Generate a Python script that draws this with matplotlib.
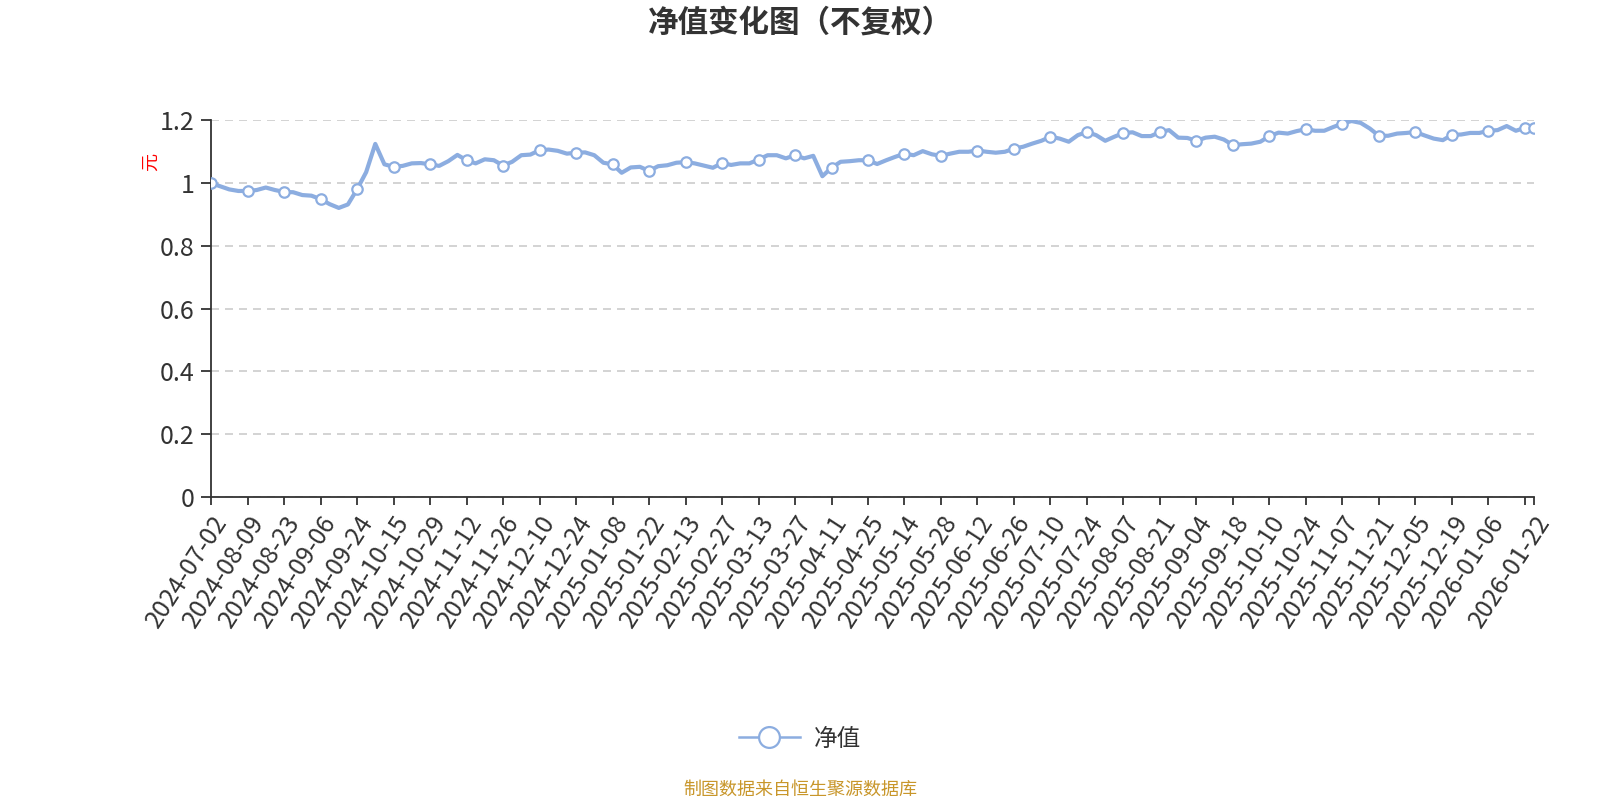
import numpy as np
import matplotlib
matplotlib.use("Agg")
import matplotlib.pyplot as plt
from matplotlib.lines import Line2D

plt.rcParams['font.family'] = ['Noto Sans CJK SC', 'DejaVu Sans']

# axis labels shown on the category axis (one every 10 trading days, last one at the end)
date_labels = [
    "2024-07-02", "2024-08-09", "2024-08-23", "2024-09-06", "2024-09-24",
    "2024-10-15", "2024-10-29", "2024-11-12", "2024-11-26", "2024-12-10",
    "2024-12-24", "2025-01-08", "2025-01-22", "2025-02-13", "2025-02-27",
    "2025-03-13", "2025-03-27", "2025-04-11", "2025-04-25", "2025-05-14",
    "2025-05-28", "2025-06-12", "2025-06-26", "2025-07-10", "2025-07-24",
    "2025-08-07", "2025-08-21", "2025-09-04", "2025-09-18", "2025-10-10",
    "2025-10-24", "2025-11-07", "2025-11-21", "2025-12-05", "2025-12-19",
    "2026-01-06", "2026-01-22",
]

nav = [
    1.000, 0.990, 0.980, 0.975, 0.975, 0.978, 0.986, 0.978,
    0.972, 0.971, 0.962, 0.960, 0.949, 0.933, 0.921, 0.932,
    0.980, 1.035, 1.125, 1.060, 1.052, 1.055, 1.063, 1.064,
    1.060, 1.055, 1.070, 1.090, 1.073, 1.063, 1.076, 1.073,
    1.056, 1.068, 1.089, 1.091, 1.105, 1.107, 1.103, 1.094,
    1.097, 1.098, 1.089, 1.065, 1.060, 1.033, 1.050, 1.052,
    1.039, 1.054, 1.057, 1.065, 1.067, 1.063, 1.056, 1.049,
    1.064, 1.058, 1.063, 1.063, 1.075, 1.089, 1.089, 1.079,
    1.089, 1.079, 1.087, 1.022, 1.049, 1.068, 1.070, 1.073,
    1.073, 1.061, 1.073, 1.084, 1.094, 1.089, 1.102, 1.092,
    1.087, 1.094, 1.100, 1.100, 1.104, 1.100, 1.097, 1.100,
    1.110, 1.116, 1.126, 1.135, 1.148, 1.142, 1.132, 1.153,
    1.163, 1.153, 1.135, 1.148, 1.160, 1.162, 1.150, 1.150,
    1.163, 1.169, 1.145, 1.144, 1.135, 1.145, 1.148, 1.139,
    1.121, 1.124, 1.126, 1.132, 1.150, 1.161, 1.158, 1.166,
    1.172, 1.167, 1.167, 1.179, 1.190, 1.198, 1.192, 1.174,
    1.151, 1.151, 1.158, 1.160, 1.163, 1.152, 1.142, 1.137,
    1.154, 1.155, 1.160, 1.160, 1.167, 1.169, 1.182, 1.167,
    1.176, 1.177,
]
steps_per_label = 4

y_ticks = [0, 0.2, 0.4, 0.6, 0.8, 1.0, 1.2]
y_tick_labels = ["0", "0.2", "0.4", "0.6", "0.8", "1", "1.2"]

line_color = "#8cade0"
text_color = "#333333"

x = np.arange(len(nav)) / steps_per_label
nav_arr = np.array(nav)

fig = plt.figure(figsize=(16, 8), dpi=100)
ax = fig.add_axes([0.1319, 0.379, 0.8269, 0.4705])

ax.plot(x, nav_arr, color=line_color, lw=3.0, zorder=3,
        solid_joinstyle="round", solid_capstyle="round")
mark_idx = list(range(0, len(nav), steps_per_label))
if mark_idx[-1] != len(nav) - 1:
    mark_idx.append(len(nav) - 1)
ax.plot(x[mark_idx], nav_arr[mark_idx], "o", ms=7.5, mfc="white",
        mec=line_color, mew=1.6, zorder=4)

ax.set_xlim(0, x[-1])
ax.set_ylim(0, 1.2)

n_full = len(date_labels) - 1
xt = list(range(n_full + 1)) + [x[-1]]
xl = date_labels[:n_full] + [""] + [date_labels[-1]]
ax.set_xticks(xt)
ax.set_xticklabels(xl, rotation=57, ha="right", va="top",
                   rotation_mode="anchor", fontsize=18, color=text_color)
ax.set_yticks(y_ticks)
ax.set_yticklabels(y_tick_labels, fontsize=18, color=text_color)
ax.tick_params(axis="x", length=6, width=1.3, color=text_color, pad=4)
ax.tick_params(axis="y", length=7, width=1.3, color=text_color, pad=5)

ax.yaxis.grid(True, color="#cccccc", lw=1.2, linestyle=(0, (4.8, 3.6)))
ax.set_axisbelow(True)
for side in ["top", "right"]:
    ax.spines[side].set_visible(False)
for side in ["left", "bottom"]:
    ax.spines[side].set_color(text_color)
    ax.spines[side].set_linewidth(1.3)

fig.text(0.094, 0.7975, "元", color="red", fontsize=13, rotation=90,
         ha="center", va="center")
fig.text(0.5, 1 - 23 / 800, "净值变化图（不复权）", fontsize=22,
         fontweight="bold", color=text_color, ha="center", va="center")

handle = Line2D([], [], color=line_color, lw=1.8, marker="o", ms=15,
                mfc="white", mec=line_color, mew=1.6)
fig.legend(handles=[handle], labels=["净值"], loc="center",
           bbox_to_anchor=(0.5, 1 - 739 / 800), frameon=False, fontsize=17,
           handlelength=2.6, handletextpad=0.6, labelcolor=text_color)

fig.text(0.5, 1 - 790 / 800, "制图数据来自恒生聚源数据库", color="#c8962a",
         fontsize=13, ha="center", va="center")

fig.savefig("out.png", dpi=100)
